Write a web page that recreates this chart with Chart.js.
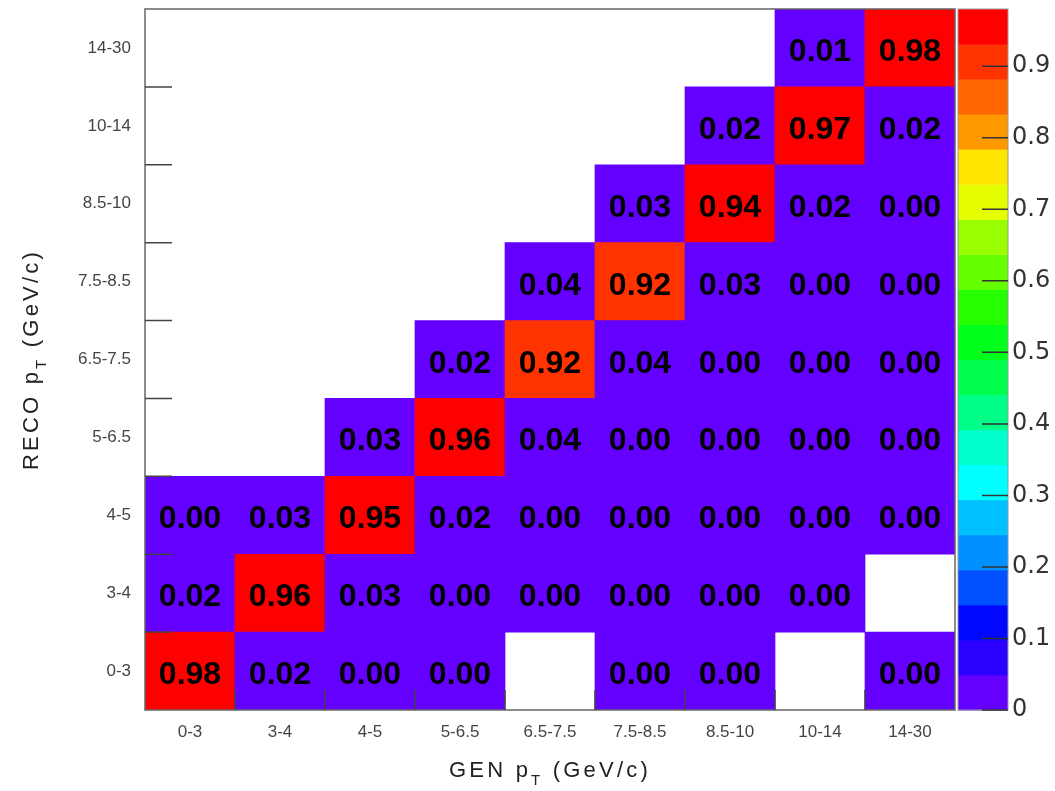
<!DOCTYPE html>
<html>
<head>
<meta charset="utf-8">
<title>pT migration matrix</title>
<script src="https://cdn.jsdelivr.net/npm/chart.js@4/dist/chart.umd.min.js"></script>
<style>
  html, body { margin: 0; padding: 0; background: #fff; }
  #wrap { position: relative; width: 1055px; height: 791px; }
</style>
</head>
<body>
<div id="wrap"><canvas id="chart"></canvas></div>
<script>
// pT bins, shared by GEN (x) and RECO (y)
var genBins  = ['0-3', '3-4', '4-5', '5-6.5', '6.5-7.5', '7.5-8.5', '8.5-10', '10-14', '14-30'];
var recoBins = ['0-3', '3-4', '4-5', '5-6.5', '6.5-7.5', '7.5-8.5', '8.5-10', '10-14', '14-30'];

// one array per RECO bin, values along GEN bins (null = empty bin)
var reco0to3    = [0.98, 0.02, 0.00, 0.00, null, 0.00, 0.00, null, 0.00];
var reco3to4    = [0.02, 0.96, 0.03, 0.00, 0.00, 0.00, 0.00, 0.00, null];
var reco4to5    = [0.00, 0.03, 0.95, 0.02, 0.00, 0.00, 0.00, 0.00, 0.00];
var reco5to6p5  = [null, null, 0.03, 0.96, 0.04, 0.00, 0.00, 0.00, 0.00];
var reco6p5to7p5 = [null, null, null, 0.02, 0.92, 0.04, 0.00, 0.00, 0.00];
var reco7p5to8p5 = [null, null, null, null, 0.04, 0.92, 0.03, 0.00, 0.00];
var reco8p5to10 = [null, null, null, null, null, 0.03, 0.94, 0.02, 0.00];
var reco10to14  = [null, null, null, null, null, null, 0.02, 0.97, 0.02];
var reco14to30  = [null, null, null, null, null, null, null, 0.01, 0.98];

var rows = [reco0to3, reco3to4, reco4to5, reco5to6p5, reco6p5to7p5,
            reco7p5to8p5, reco8p5to10, reco10to14, reco14to30];

// z axis (colour scale)
var zMax = 0.98;
var zTicks = [0, 0.1, 0.2, 0.3, 0.4, 0.5, 0.6, 0.7, 0.8, 0.9];

// 20 contour colours, lowest first
var palette = ['#6400ff', '#2c00ff', '#0008ff', '#0050ff', '#0090ff', '#00c0ff', '#00ffff', '#00ffcc',
               '#00ff88', '#00ff4c', '#00ff1a', '#26ff00', '#66ff00', '#99ff00', '#e6ff00', '#ffe600',
               '#ff9900', '#ff6600', '#ff3300', '#ff0000'];

function colorFor(v) {
  if (v === null) return 'rgba(0,0,0,0)';
  var i = Math.floor(v / zMax * palette.length);
  return palette[Math.max(0, Math.min(palette.length - 1, i))];
}

var FONT = '"Liberation Sans", Arial, Helvetica, sans-serif';

var datasets = rows.map(function (row, r) {
  return {
    label: recoBins[r],
    data: row.map(function (v) { return v === null ? null : [r, r + 1]; }),
    values: row,
    backgroundColor: row.map(colorFor),
    borderWidth: 0,
    grouped: false,
    barPercentage: 1,
    categoryPercentage: 1
  };
});

// vertical axes: fixed width, no extra padding above/below the plot
function fixWidth(w) {
  return function (s) {
    s.width = w;
    s.paddingTop = 0;
    s.paddingBottom = 0;
  };
}

// draws text with a "T" subscript after the marker, centred on x
function drawSubTitle(ctx, pre, sub, post, x, y) {
  ctx.letterSpacing = '3.2px';
  ctx.font = '22px ' + FONT;
  var w1 = ctx.measureText(pre).width;
  var w3 = ctx.measureText(post).width;
  ctx.font = '15px ' + FONT;
  var w2 = ctx.measureText(sub).width;
  var left = x - (w1 + w2 + w3) / 2;
  ctx.textAlign = 'left';
  ctx.textBaseline = 'alphabetic';
  ctx.font = '22px ' + FONT;
  ctx.fillText(pre, left, y);
  ctx.font = '15px ' + FONT;
  ctx.fillText(sub, left + w1, y + 8);
  ctx.font = '22px ' + FONT;
  ctx.fillText(post, left + w1 + w2, y);
  ctx.letterSpacing = '0px';
}

var decor = {
  id: 'decor',
  afterDatasetsDraw: function (chart) {
    var ctx = chart.ctx;
    var a = chart.chartArea;
    var xs = chart.scales.x, ys = chart.scales.y, zs = chart.scales.z;
    ctx.save();

    // bin contents
    ctx.font = 'bold 32px ' + FONT;
    ctx.fillStyle = '#000';
    ctx.textAlign = 'center';
    ctx.textBaseline = 'alphabetic';
    chart.data.datasets.forEach(function (ds, i) {
      var meta = chart.getDatasetMeta(i);
      meta.data.forEach(function (bar, j) {
        var v = ds.values[j];
        if (v === null) return;
        var cy = (bar.y + bar.base) / 2;
        ctx.fillText(v.toFixed(2), bar.x, cy + 13);
      });
    });

    // frame
    ctx.strokeStyle = '#666';
    ctx.lineWidth = 1.5;
    ctx.strokeRect(a.left, a.top, a.right - a.left, a.bottom - a.top);

    // inward tick marks at bin edges
    ctx.strokeStyle = '#444';
    ctx.lineWidth = 1.5;
    ctx.beginPath();
    for (var k = 1; k < genBins.length; k++) {
      var px = (xs.getPixelForValue(k - 1) + xs.getPixelForValue(k)) / 2;
      ctx.moveTo(px, a.bottom);
      ctx.lineTo(px, a.bottom - 20);
    }
    for (var k2 = 1; k2 < recoBins.length; k2++) {
      var py = ys.getPixelForValue(k2);
      ctx.moveTo(a.left, py);
      ctx.lineTo(a.left + 27, py);
    }
    ctx.stroke();

    // colour bar
    var barL = a.right + 3, barR = a.right + 53;
    for (var b = 0; b < palette.length; b++) {
      var y0 = zs.getPixelForValue(b * zMax / palette.length);
      var y1 = zs.getPixelForValue((b + 1) * zMax / palette.length);
      ctx.fillStyle = palette[b];
      ctx.fillRect(barL, y1, barR - barL, y0 - y1 + 0.5);
    }
    ctx.strokeStyle = '#999';
    ctx.lineWidth = 1;
    ctx.strokeRect(barL, a.top, barR - barL, a.bottom - a.top);
    ctx.strokeStyle = '#333';
    ctx.lineWidth = 1.5;
    ctx.beginPath();
    zTicks.forEach(function (t) {
      var ty = zs.getPixelForValue(t);
      ctx.moveTo(barR - 26, ty);
      ctx.lineTo(barR, ty);
    });
    ctx.stroke();

    // axis titles
    ctx.fillStyle = '#222';
    drawSubTitle(ctx, 'GEN p', 'T', ' (GeV/c)', (a.left + a.right) / 2, 777);
    ctx.save();
    ctx.translate(37.5, (a.top + a.bottom) / 2);
    ctx.rotate(-Math.PI / 2);
    drawSubTitle(ctx, 'RECO p', 'T', ' (GeV/c)', 0, 0);
    ctx.restore();

    ctx.restore();
  }
};

new Chart(document.getElementById('chart'), {
  type: 'bar',
  data: { labels: genBins, datasets: datasets },
  options: {
    responsive: true,
    maintainAspectRatio: false,
    animation: false,
    layout: { padding: { top: 9, right: 0, left: 0, bottom: 0 } },
    plugins: { legend: { display: false }, tooltip: { enabled: false } },
    scales: {
      x: {
        type: 'category',
        offset: true,
        grid: { display: false, drawTicks: false },
        border: { display: false },
        ticks: { font: { size: 17, family: FONT }, color: '#444', padding: 12, maxRotation: 0 },
        afterFit: function (s) { s.height = 81; }
      },
      y: {
        type: 'linear',
        min: 0,
        max: recoBins.length,
        grid: { display: false, drawTicks: false },
        border: { display: false },
        afterBuildTicks: function (s) {
          s.ticks = recoBins.map(function (_, i) { return { value: i + 0.5 }; });
        },
        ticks: {
          font: { size: 17, family: FONT },
          color: '#444',
          padding: 14,
          callback: function (v) { return recoBins[Math.floor(v)]; }
        },
        afterFit: fixWidth(145)
      },
      z: {
        type: 'linear',
        position: 'right',
        min: 0,
        max: zMax,
        grid: { display: false, drawOnChartArea: false, drawTicks: false },
        border: { display: false },
        afterBuildTicks: function (s) {
          s.ticks = zTicks.map(function (t) { return { value: t }; });
        },
        ticks: {
          font: { size: 24, family: '"DejaVu Sans", ' + FONT },
          color: '#333',
          padding: 57,
          callback: function (v) { return String(Math.round(v * 10) / 10); }
        },
        afterFit: fixWidth(100)
      }
    }
  },
  plugins: [decor]
});
</script>
</body>
</html>
